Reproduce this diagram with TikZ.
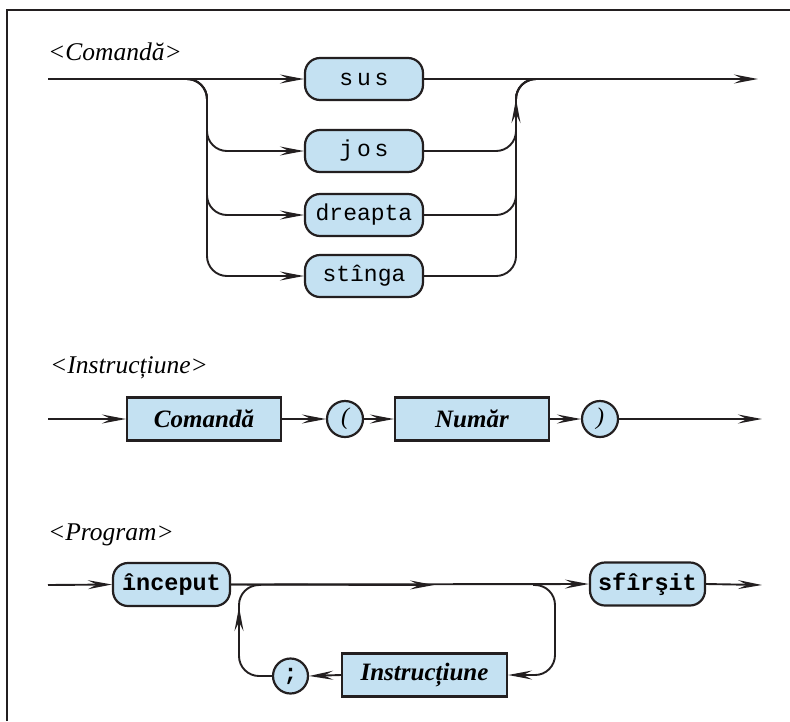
\documentclass[tikz,border=0pt]{standalone}
\usepackage{fontspec}
\setmainfont{Liberation Serif}
\setmonofont{Liberation Mono}
\usetikzlibrary{arrows.meta}
\definecolor{boxfill}{HTML}{C4E1F2}
\definecolor{ink}{HTML}{231F20}
\tikzset{
  arr/.style={-{Stealth[length=24pt,width=9pt,inset=9pt]}},
  conn/.style={draw=ink,line width=1.9pt},
  rc/.style={rounded corners=20pt},
  term/.style={draw=ink,fill=boxfill,line width=2.2pt,rounded corners=15pt,inner sep=0pt,
    minimum height=42pt,font=\fontsize{23}{23}\selectfont\ttfamily},
  bterm/.style={term,minimum height=43pt,font=\fontsize{23.5}{24}\selectfont\ttfamily\bfseries},
  nonterm/.style={draw=ink,fill=boxfill,line width=2.2pt,inner sep=0pt,minimum height=43pt,
    font=\fontsize{25}{25}\selectfont\itshape\bfseries},
  circ/.style={draw=ink,fill=boxfill,line width=2.2pt,circle,inner sep=0pt,minimum size=36pt},
  head/.style={anchor=west,inner sep=0pt,font=\fontsize{25.5}{26}\selectfont\itshape},
}
\begin{document}
\begin{tikzpicture}[x=1pt,y=-1pt]
\useasboundingbox (0,0) rectangle (790,721);
\draw[ink,line width=2pt] (7,721) -- (7,9.5) -- (790,9.5);

% ---------- Comanda ----------
\node[head] (h1) at (48,52) {<Comandă>};
\node[term,minimum width=118pt] (sus) at (364,79) {s\,u\,s};
\node[term,minimum width=118pt] (jos) at (364,151) {j\,o\,s};
\node[term,minimum width=118pt] (dreapta) at (364,215) {dreapta};
\node[term,minimum width=118pt] (stinga) at (364,276) {stînga};
\coordinate (cin) at (48,79);
\coordinate (cout) at (758,79);
\coordinate (bx) at (207,79);
\coordinate (mx) at (516,79);

\draw[conn,arr] (cin) -- (sus.west);
\draw[conn,arr] (sus.east) -- (cout);
\draw[conn,arr,rc] ([xshift=-20pt]bx) -| (bx |- jos) -- (jos.west);
\draw[conn,arr,rc] ([xshift=-20pt]bx) -| (bx |- dreapta) -- (dreapta.west);
\draw[conn,arr,rc] ([xshift=-20pt]bx) -| (bx |- stinga) -- (stinga.west);
\draw[conn,rc] (jos.east) -| (mx) -- ([xshift=20pt]mx);
\draw[conn,rc] (dreapta.east) -| (mx) -- ([xshift=20pt]mx);
\draw[conn,rc] (stinga.east) -| (mx) -- ([xshift=20pt]mx);
\coordinate (upA) at (516,140);
\coordinate (upB) at (516,99);
\draw[conn,arr] (upA) -- (upB);

% ---------- Instructiune ----------
\node[head] (h2) at (50,368) {<Instrucțiune>};
\coordinate (iin) at (48,419);
\coordinate (iout) at (762,419);
\node[nonterm,minimum width=154pt] (comanda) at (204,419) {Comandă};
\node[circ,font=\fontsize{24}{24}\selectfont\itshape] (lp) at (345,419) {(};
\node[nonterm,minimum width=154pt] (numar) at (472,419) {Număr};
\node[circ,font=\fontsize{24}{24}\selectfont\itshape] (rp) at (600,419) {)};
\draw[conn,arr] (iin) -- (comanda.west);
\draw[conn,arr] (comanda.east) -- (lp.west);
\draw[conn,arr] (lp.east) -- (numar.west);
\draw[conn,arr] (numar.east) -- (rp.west);
\draw[conn,arr] (rp.east) -- (iout);

% ---------- Program ----------
\node[head] (h3) at (48,535) {<Program>};
\coordinate (pin) at (48,585);
\coordinate (pout) at (762,585);
\node[bterm,minimum width=117pt] (inceput) at (171.5,584.5) {început};
\node[bterm,minimum width=115pt] (sfirsit) at (647.5,584) {sfîrşit};
\node[nonterm,minimum width=165pt] (instr) at (424.5,675) {Instrucțiune};
\node[circ,minimum size=35pt,font=\fontsize{23}{23}\selectfont\ttfamily\bfseries] (semi) at (290.5,676) {;};
\coordinate (mid) at (434,585);
\coordinate (lr) at (555,585);
\coordinate (ll) at (239,585);
\draw[conn,arr] (pin) -- (inceput.west);
\draw[conn,arr] (inceput.east) -- (sfirsit.west);
\draw[conn,arr] (inceput.east) -- (mid);
\draw[conn,arr] (sfirsit.east) -- (pout);
\draw[conn,arr,rc] ([xshift=-22pt]lr) -| (lr |- instr) -- (instr.east);
\draw[conn,arr] (instr.west) -- (semi.east);
\draw[conn,rc] (semi.west) -| (ll) -- ([xshift=22pt]ll);
\coordinate (lupA) at (239,650);
\coordinate (lupB) at (239,607);
\draw[conn,arr] (lupA) -- (lupB);
\end{tikzpicture}
\end{document}
